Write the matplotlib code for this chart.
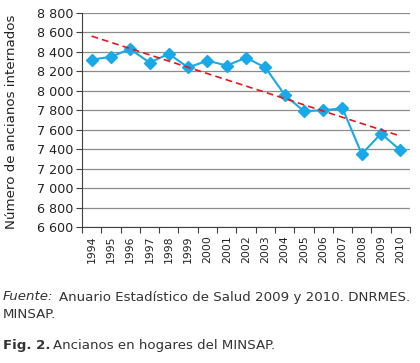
import numpy as np
import matplotlib
matplotlib.use("Agg")
import matplotlib.pyplot as plt
from matplotlib.ticker import FuncFormatter, FixedLocator
from matplotlib.transforms import offset_copy

# Data
years = [1994, 1995, 1996, 1997, 1998, 1999, 2000, 2001, 2002,
         2003, 2004, 2005, 2006, 2007, 2008, 2009, 2010]
ancianos = [8320, 8350, 8430, 8290, 8380, 8240, 8310, 8260, 8340,
            8240, 7960, 7790, 7800, 7820, 7350, 7560, 7390]
yticks = list(range(6600, 8801, 200))

x = np.arange(len(years))

fig = plt.figure(figsize=(4.2, 3.63), dpi=100)
ax = fig.add_axes([82/420, 1 - 227/363, 328/420, 214/363])

# horizontal grid
for v in yticks:
    ax.axhline(v, color="#8c8c8c", lw=0.9, zorder=1)

ax.plot(x, ancianos, color="#1aa9e8", lw=1.5, marker="D", ms=6,
        mec="#1aa9e8", mfc="#1aa9e8", zorder=3)

# linear trend line
coef = np.polyfit(x, ancianos, 1)
ax.plot(x, np.polyval(coef, x), color="#e8141e", lw=1.2, ls=(0, (4, 2.5)), zorder=4)

ax.set_xlim(-0.5, len(years) - 0.5)
ax.set_ylim(6600, 8800)
ax.set_yticks(yticks)
ax.yaxis.set_major_formatter(FuncFormatter(lambda v, p: f"{int(v):,}".replace(",", " ")))
ax.xaxis.set_major_locator(FixedLocator(np.arange(-0.5, len(years), 1)))
ax.xaxis.set_major_formatter(FuncFormatter(lambda v, p: ""))

lab_tr = offset_copy(ax.transData, fig=fig, x=0, y=-6, units="points")
for i, yr in enumerate(years):
    ax.text(i, 6600, str(yr), rotation=90, ha="center", va="top",
            fontsize=7.8, color="#222222", transform=lab_tr, clip_on=False)

for s in ["top", "right"]:
    ax.spines[s].set_visible(False)
ax.spines["left"].set_color("#404040")
ax.spines["bottom"].set_color("#404040")
ax.tick_params(axis="y", labelsize=9.2, length=4, color="#404040", labelcolor="#222222", pad=2)
ax.tick_params(axis="x", length=4, color="#404040")

fig.text(12/420, 1 - 122/363, "Número de ancianos internados", rotation=90,
         fontsize=9.6, color="#222222", ha="center", va="center")

fs = 9.6
fig.text(3/420, 1 - 297/363, "Fuente:", fontsize=fs, style="italic", color="#333333", va="center")
fig.text(59/420, 1 - 297/363, "Anuario Estadístico de Salud 2009 y 2010. DNRMES.",
         fontsize=fs, color="#333333", va="center")
fig.text(3/420, 1 - 314/363, "MINSAP.", fontsize=fs, color="#333333", va="center")
fig.text(3/420, 1 - 346/363, "Fig. 2.", fontsize=fs, weight="bold", color="#333333", va="center")
fig.text(53/420, 1 - 346/363, "Ancianos en hogares del MINSAP.", fontsize=fs,
         color="#333333", va="center")

fig.savefig("out.png", dpi=100)
